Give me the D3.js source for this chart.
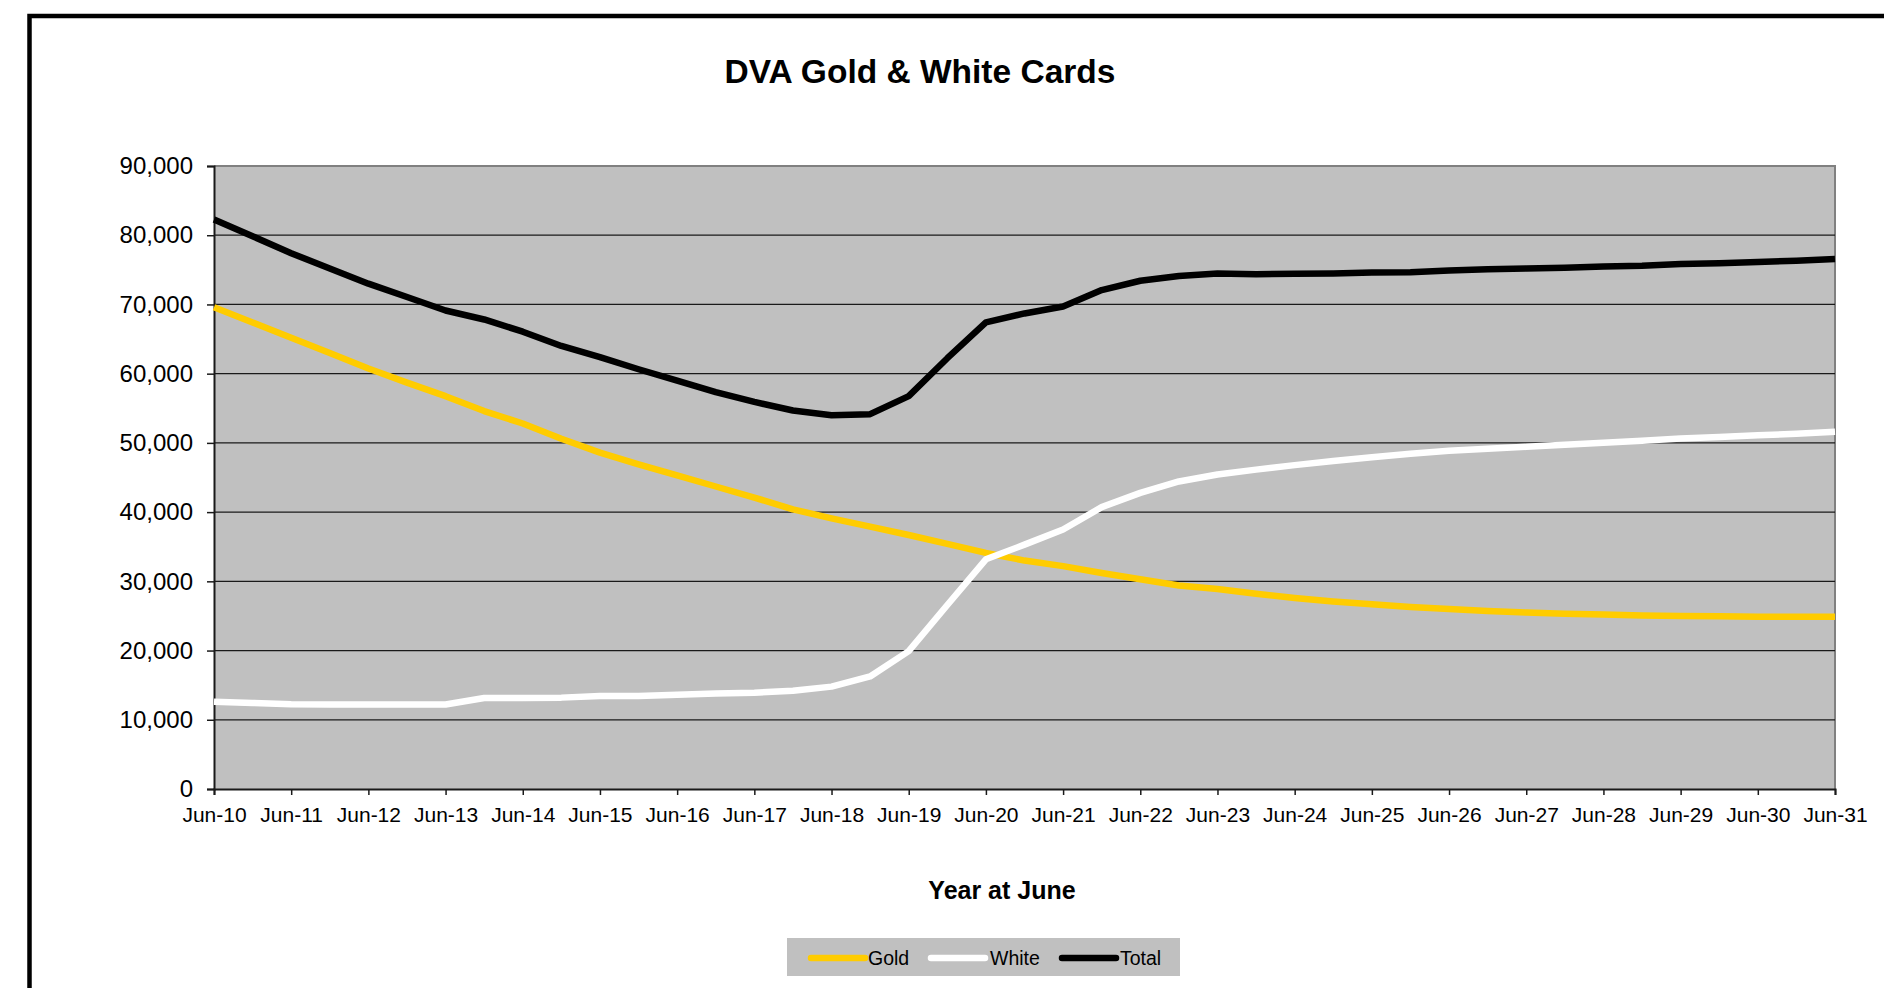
<!DOCTYPE html>
<html>
<head>
<meta charset="utf-8">
<script src="https://cdn.jsdelivr.net/npm/d3@7"></script>
<style>
  html, body { margin: 0; padding: 0; background: #fff; overflow: hidden; }
  svg { display: block; font-family: "Liberation Sans", Arial, sans-serif; }
</style>
</head>
<body>
<svg id="chart" width="1884" height="988"></svg>
<script>
// ---- data ----
const categories = ["Jun-10","Dec-10","Jun-11","Dec-11","Jun-12","Dec-12","Jun-13","Dec-13","Jun-14","Dec-14",
  "Jun-15","Dec-15","Jun-16","Dec-16","Jun-17","Dec-17","Jun-18","Dec-18","Jun-19","Dec-19",
  "Jun-20","Dec-20","Jun-21","Dec-21","Jun-22","Dec-22","Jun-23","Dec-23","Jun-24","Dec-24",
  "Jun-25","Dec-25","Jun-26","Dec-26","Jun-27","Dec-27","Jun-28","Dec-28","Jun-29","Dec-29",
  "Jun-30","Dec-30","Jun-31"];
const tickLabels = categories.filter(c => c.startsWith("Jun"));
const gold = [69600,67400,65200,63000,60750,58700,56750,54600,52800,50600,
  48600,46900,45300,43700,42100,40400,39100,37900,36700,35400,
  34100,33000,32200,31200,30300,29400,28900,28200,27600,27100,
  26700,26300,26000,25700,25500,25300,25200,25050,25000,24950,
  24900,24880,24870];
const white = [12600,12430,12260,12220,12200,12200,12200,13140,13140,13200,
  13430,13430,13610,13790,13910,14200,14790,16260,19920,26580,
  33180,35300,37480,40720,42780,44430,45430,46140,46790,47380,
  47910,48440,48850,49150,49440,49730,50030,50320,50620,50850,
  51090,51330,51620];
const total = [82260,79850,77400,75200,73000,71070,69120,67830,66060,64000,
  62400,60640,58990,57340,55920,54680,53980,54150,56750,62230,
  67410,68700,69710,72070,73420,74120,74480,74370,74430,74480,
  74600,74660,74900,75070,75190,75310,75490,75600,75840,75960,
  76140,76310,76550];
const yTicks = [0,10000,20000,30000,40000,50000,60000,70000,80000,90000];
const seriesNames = ["Gold","White","Total"];
const seriesColors = ["#FFCC00","#FFFFFF","#000000"];

// ---- layout ----
const svg = d3.select("#chart");
const plot = {left: 214, right: 1835, top: 166, bottom: 789};

// outer frame (extends past right/bottom edges)
svg.append("rect").attr("x", 29.5).attr("y", 16).attr("width", 2000).attr("height", 1100)
  .attr("fill", "none").attr("stroke", "#000").attr("stroke-width", 4.5);

const x = d3.scalePoint().domain(categories).range([plot.left, plot.right]);
const y = d3.scaleLinear().domain([0, 90000]).range([plot.bottom, plot.top]);

// plot background
svg.append("rect").attr("x", plot.left).attr("y", plot.top)
  .attr("width", plot.right - plot.left).attr("height", plot.bottom - plot.top)
  .attr("fill", "#C0C0C0");
// top/right border of plot area
svg.append("path")
  .attr("d", `M${plot.left},${plot.top}H${plot.right}V${plot.bottom}`)
  .attr("fill", "none").attr("stroke", "#808080").attr("stroke-width", 2);

// gridlines
svg.append("g").selectAll("line").data(yTicks.filter(v => v > 0 && v < 90000)).join("line")
  .attr("x1", plot.left).attr("x2", plot.right)
  .attr("y1", d => y(d)).attr("y2", d => y(d))
  .attr("stroke", "#1a1a1a").attr("stroke-width", 1.3);

// y axis
const yAxis = d3.axisLeft(y).tickValues(yTicks).tickSize(7).tickPadding(14)
  .tickFormat(d3.format(","));
const gy = svg.append("g").attr("transform", `translate(${plot.left},0)`).call(yAxis);
gy.select(".domain").attr("stroke", "#1a1a1a").attr("stroke-width", 2);
gy.selectAll(".tick line").attr("stroke", "#1a1a1a").attr("stroke-width", 1.5);
gy.selectAll(".tick text").attr("font-size", 24).attr("fill", "#000")
  .attr("font-family", "Liberation Sans, Arial, sans-serif");

// x axis
const xAxis = d3.axisBottom(x).tickValues(tickLabels).tickSize(6).tickPadding(12);
const gx = svg.append("g").attr("transform", `translate(0,${plot.bottom})`).call(xAxis);
gx.select(".domain").attr("stroke", "#1a1a1a").attr("stroke-width", 2);
gx.selectAll(".tick line").attr("stroke", "#1a1a1a").attr("stroke-width", 1.5);
gx.selectAll(".tick text").attr("font-size", 21).attr("fill", "#000")
  .attr("font-family", "Liberation Sans, Arial, sans-serif");

// lines
const line = d3.line().x((d, i) => x(categories[i])).y(d => y(d));
const seriesData = [gold, white, total];
svg.append("g").selectAll("path").data(seriesData).join("path")
  .attr("d", d => line(d))
  .attr("fill", "none")
  .attr("stroke", (d, i) => seriesColors[i])
  .attr("stroke-width", 6.5)
  .attr("stroke-linejoin", "round");

// title
svg.append("text").attr("x", 920).attr("y", 83).attr("text-anchor", "middle")
  .attr("font-size", 33.5).attr("font-weight", "bold").attr("fill", "#000")
  .text("DVA Gold & White Cards");

// x axis title
svg.append("text").attr("x", 1002).attr("y", 899).attr("text-anchor", "middle")
  .attr("font-size", 25).attr("font-weight", "bold").attr("fill", "#000")
  .text("Year at June");

// legend
const lg = svg.append("g");
lg.append("rect").attr("x", 787).attr("y", 938).attr("width", 393).attr("height", 38)
  .attr("fill", "#C0C0C0");
const legendItems = [
  {lx1: 811, lx2: 865, tx: 868},
  {lx1: 931, lx2: 985, tx: 990},
  {lx1: 1062, lx2: 1116, tx: 1120}
];
legendItems.forEach((it, i) => {
  lg.append("line").attr("x1", it.lx1).attr("x2", it.lx2).attr("y1", 958).attr("y2", 958)
    .attr("stroke", seriesColors[i]).attr("stroke-width", 6.5).attr("stroke-linecap", "round");
  lg.append("text").attr("x", it.tx).attr("y", 965).attr("font-size", 19.5).attr("fill", "#000")
    .text(seriesNames[i]);
});
</script>
</body>
</html>
